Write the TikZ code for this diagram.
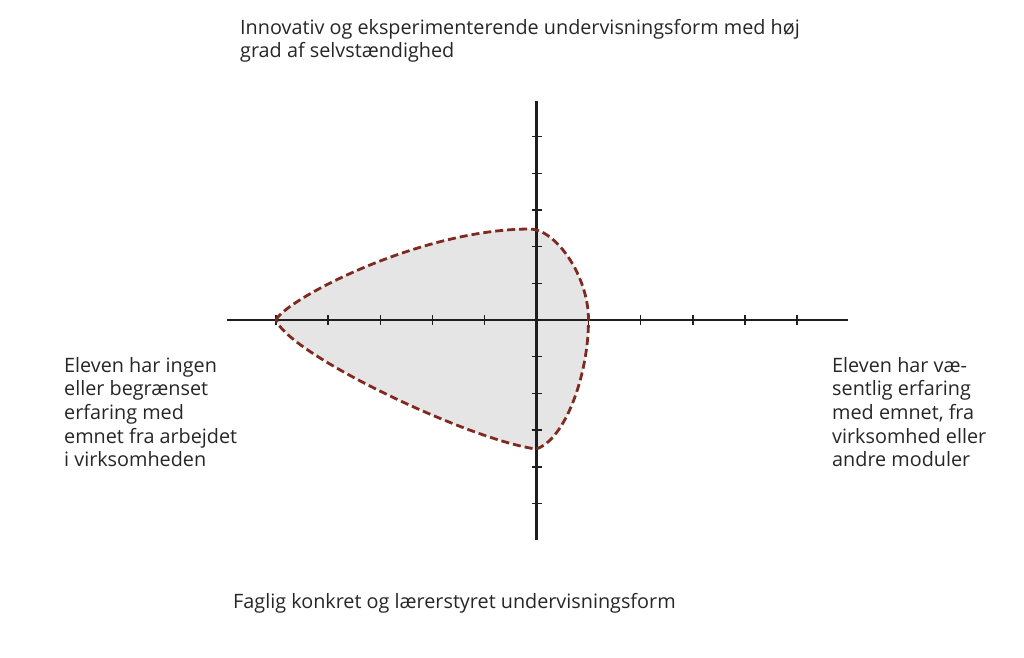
\documentclass[tikz,border=0pt]{standalone}
\usepackage{fontspec}
\usetikzlibrary{calc}
\setmainfont{Open Sans}
\definecolor{txt}{HTML}{262626}
\definecolor{axiscol}{HTML}{1E1E1E}
\definecolor{curvecol}{HTML}{7E2A20}
\definecolor{fillcol}{HTML}{E5E5E5}
\begin{document}
\begin{tikzpicture}[x=1pt,y=-1pt,
  lbl/.style={anchor=north west,inner sep=0pt,align=left,text=txt,font=\fontsize{19.8}{23.6}\selectfont},
  axisline/.style={draw=axiscol,line width=2.8pt},
  tick/.style={draw=axiscol,line width=1.4pt},
  region/.style={fill=fillcol},
  regionedge/.style={draw=curvecol,line width=2.8pt,dash pattern=on 8pt off 4pt}]
\useasboundingbox (0,0) rectangle (1024,657);
% region
\coordinate (L) at (276,320);
\coordinate (T) at (530,229);
\coordinate (R) at (588.5,320);
\coordinate (B) at (536,449);
\fill[region] (L) .. controls (285,300) and (420,229) .. (T)
  .. controls (555,229) and (588.5,275) .. (R)
  .. controls (588.5,375) and (565,440) .. (B)
  .. controls (470,440) and (290,355) .. (L) -- cycle;
% axes
\coordinate (O) at (536.5,320);
\coordinate (xl) at (227,320);
\coordinate (xr) at (848,320);
\coordinate (yt) at (536.5,101);
\coordinate (yb) at (536.5,540);
\draw[axisline] (xl) -- (xr);
\draw[axisline] (yt) -- (yb);
\foreach \i in {-5,...,-1,1,2,...,5}
  \draw[tick] ($(O)+(52.1*\i,-5)$) -- ++(0,10);
\foreach \j in {-5,...,-1,1,2,...,5}
  \draw[tick] ($(O)+(-5,36.7*\j)$) -- ++(10,0);
% dashed edge
\draw[regionedge] (L) .. controls (285,300) and (420,229) .. (T)
  .. controls (555,229) and (588.5,275) .. (R)
  .. controls (588.5,375) and (565,440) .. (B)
  .. controls (470,440) and (290,355) .. (L) -- cycle;
% labels
\node[lbl] (top) at (240,19) {Innovativ og eksperimenterende undervisningsform med høj\\grad af selvstændighed};
\node[lbl] (left) at (64,357) {Eleven har ingen\\eller begrænset\\erfaring med\\emnet fra arbejdet\\i virksomheden};
\node[lbl] (right) at (832,357) {Eleven har væ-\\sentlig erfaring\\med emnet, fra\\virksomhed eller\\andre moduler};
\node[lbl] (bottom) at (233,593) {Faglig konkret og lærerstyret undervisningsform};
\end{tikzpicture}
\end{document}
